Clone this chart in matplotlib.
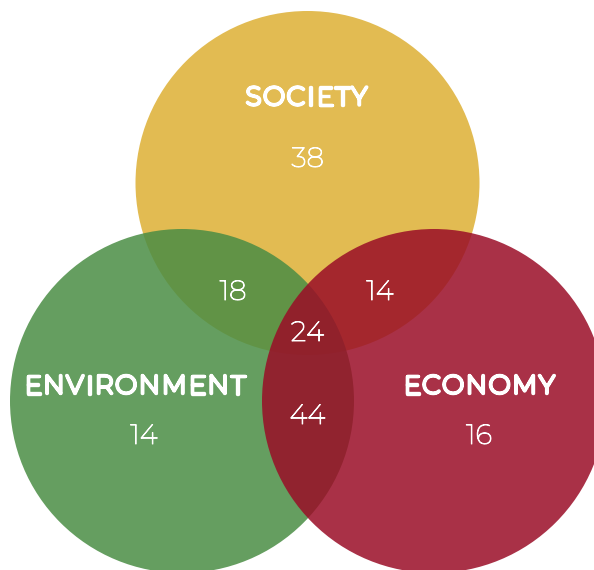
import matplotlib
matplotlib.use("Agg")
import matplotlib.pyplot as plt
from matplotlib.patches import Circle
from matplotlib import patheffects as pe
from matplotlib import font_manager as fm

# Data
set_names = ["SOCIETY", "ENVIRONMENT", "ECONOMY"]
only_values = [38, 14, 16]
pair_labels = ["Society & Environment", "Society & Economy", "Environment & Economy"]
pair_values = [18, 14, 44]
all_three_value = 24

colors = ["#E2BB52", "#4A8D44", "#9A0D27"]
alphas = [1.0, 0.85, 0.85]

W, H = 594, 570
fig = plt.figure(figsize=(W / 100, H / 100), dpi=100)
ax = fig.add_axes([0, 0, 1, 1])
ax.set_xlim(0, W)
ax.set_ylim(H, 0)
ax.set_aspect("equal")
ax.axis("off")

R = 172
centers = [(307.5, 183), (182, 401), (434, 401)]
for (cx, cy), c, a in zip(centers, colors, alphas):
    ax.add_patch(Circle((cx, cy), R, facecolor=c, alpha=a, edgecolor="none"))

names = {f.name for f in fm.fontManager.ttflist}
fam = "Montserrat" if "Montserrat" in names else "Lato"

bold_fx = [pe.withStroke(linewidth=2.4, foreground="white")]
light_fx = [pe.withStroke(linewidth=0.7, foreground="white")]

fig.canvas.draw()
renderer = fig.canvas.get_renderer()


def tracked_text(x, y, s, track_px, **kw):
    widths = []
    for ch in s:
        t = ax.text(0, 0, ch, **kw)
        widths.append(t.get_window_extent(renderer).width)
        t.remove()
    total = sum(widths) + track_px * (len(s) - 1)
    x0 = x - total / 2
    for ch, w in zip(s, widths):
        ax.text(x0 + w / 2, y, ch, ha="center", va="center", **kw)
        x0 += w + track_px


def num(x, y, v):
    ax.text(x, y, str(v), color="white", fontsize=20, family=fam,
            ha="center", va="center", path_effects=light_fx)


title_pos = [(306.5, 97.5), (134.5, 386), (479, 386)]
num_pos = [(307.5, 159.5), (144, 436.5), (479, 436.5)]
for name, v, tp, npos in zip(set_names, only_values, title_pos, num_pos):
    tracked_text(tp[0], tp[1], name, 2.0, color="white", fontsize=18.5,
                 family=fam, path_effects=bold_fx)
    num(*npos, v)

pair_pos = [(233, 292.5), (380, 292.5), (307.5, 416.5)]
for v, p in zip(pair_values, pair_pos):
    num(*p, v)
num(307.5, 333.5, all_three_value)

fig.savefig("out.png", dpi=100, facecolor="white")
